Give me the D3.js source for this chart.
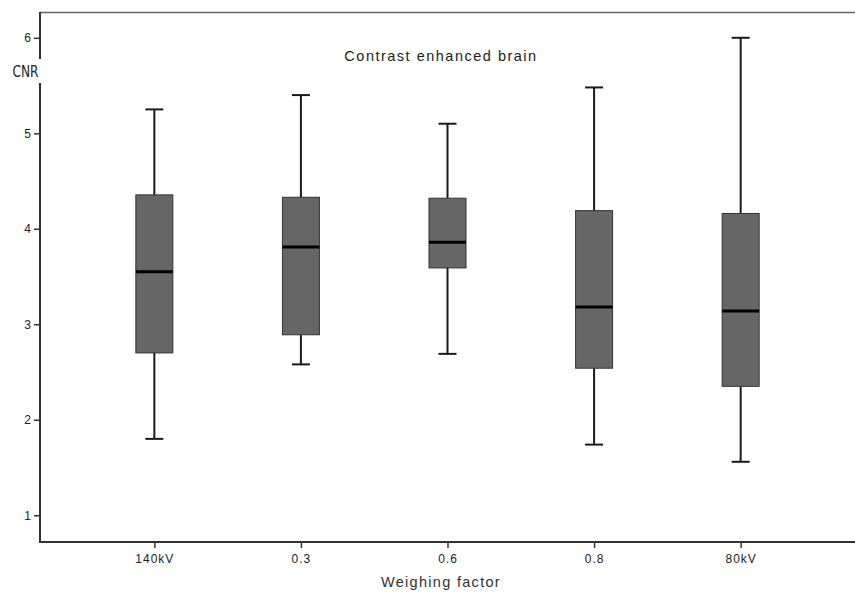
<!DOCTYPE html>
<html lang="en">
<head>
<meta charset="UTF-8">
<title>Contrast enhanced brain</title>
<script src="https://d3js.org/d3.v7.min.js"></script>
<style>
  body { margin: 0; background: #fff; }
  .tick text { font-family: "Liberation Sans", Arial, sans-serif; font-size: 12px; fill: #222; }
  .xaxis .tick text { letter-spacing: 1px; }
  .axis line { stroke: #333; }
  .axis path { display: none; }
</style>
</head>
<body>
<div id="chart"></div>
<script>
// box statistics
const categories = ["140kV", "0.3", "0.6", "0.8", "80kV"];
const whiskerLow = [1.80, 2.58, 2.69, 1.74, 1.56];
const q1 = [2.70, 2.89, 3.59, 2.54, 2.35];
const median = [3.55, 3.81, 3.86, 3.18, 3.14];
const q3 = [4.355, 4.33, 4.32, 4.19, 4.16];
const whiskerHigh = [5.25, 5.40, 5.10, 5.48, 6.00];
const yTicks = [1, 2, 3, 4, 5, 6];

const W = 855, H = 592;
const plotLeft = 40, plotTop = 12, plotBottom = 542, plotRight = 855;

const svg = d3.select("#chart").append("svg")
    .attr("width", W).attr("height", H);

const y = d3.scaleLinear().domain([0.72, 6.27]).range([plotBottom, plotTop]);
const x = d3.scalePoint().domain(categories).range([plotLeft, plotRight]).padding(0.78);

const boxW = 37, capW = 18;

// frame lines
svg.append("line").attr("x1", plotLeft).attr("x2", plotRight).attr("y1", plotTop + 0.5).attr("y2", plotTop + 0.5)
    .attr("stroke", "#666").attr("stroke-width", 1.5);
svg.append("line").attr("x1", plotLeft).attr("x2", plotRight).attr("y1", plotBottom).attr("y2", plotBottom)
    .attr("stroke", "#333").attr("stroke-width", 2);
// left axis with a gap for the CNR label
svg.append("line").attr("x1", plotLeft).attr("x2", plotLeft).attr("y1", plotTop).attr("y2", 59)
    .attr("stroke", "#333").attr("stroke-width", 2);
svg.append("line").attr("x1", plotLeft).attr("x2", plotLeft).attr("y1", 83).attr("y2", plotBottom + 1)
    .attr("stroke", "#333").attr("stroke-width", 2);

svg.append("g").attr("class", "axis")
    .attr("transform", `translate(${plotLeft},0)`)
    .call(d3.axisLeft(y).tickValues(yTicks).tickSize(6).tickPadding(3).tickFormat(d3.format("d")))
    .selectAll("line").attr("stroke-width", 1.5);

svg.append("g").attr("class", "axis xaxis")
    .attr("transform", `translate(0,${plotBottom})`)
    .call(d3.axisBottom(x).tickSize(6).tickPadding(6))
    .selectAll("line").attr("stroke-width", 1.5);

svg.append("text").attr("x", 25.5).attr("y", 77)
    .attr("text-anchor", "middle")
    .style("font-family", "'Liberation Sans Narrow', 'DejaVu Sans Condensed', sans-serif")
    .style("font-size", "16.5px")
    .attr("transform", "translate(25.5,77) scale(0.82,1) translate(-25.5,-77)")
    .attr("fill", "#222").text("CNR");

svg.append("text").attr("x", 441).attr("y", 61)
    .attr("text-anchor", "middle")
    .style("font-family", "'Liberation Sans', Arial, sans-serif")
    .style("font-size", "14.5px").style("letter-spacing", "1.5px").attr("fill", "#222")
    .text("Contrast enhanced brain");

svg.append("text").attr("x", 441).attr("y", 587)
    .attr("text-anchor", "middle")
    .style("font-family", "'Liberation Sans', Arial, sans-serif")
    .style("font-size", "14.5px").style("letter-spacing", "1.3px").attr("fill", "#333")
    .text("Weighing factor");

const boxes = svg.selectAll(".box").data(categories).enter().append("g").attr("class", "box");

boxes.append("line")
    .attr("x1", d => x(d)).attr("x2", d => x(d))
    .attr("y1", (d, i) => y(whiskerHigh[i])).attr("y2", (d, i) => y(q3[i]))
    .attr("stroke", "#1a1a1a").attr("stroke-width", 2);
boxes.append("line")
    .attr("x1", d => x(d)).attr("x2", d => x(d))
    .attr("y1", (d, i) => y(q1[i])).attr("y2", (d, i) => y(whiskerLow[i]))
    .attr("stroke", "#1a1a1a").attr("stroke-width", 2);
boxes.append("line")
    .attr("x1", d => x(d) - capW / 2).attr("x2", d => x(d) + capW / 2)
    .attr("y1", (d, i) => y(whiskerHigh[i])).attr("y2", (d, i) => y(whiskerHigh[i]))
    .attr("stroke", "#1a1a1a").attr("stroke-width", 2);
boxes.append("line")
    .attr("x1", d => x(d) - capW / 2).attr("x2", d => x(d) + capW / 2)
    .attr("y1", (d, i) => y(whiskerLow[i])).attr("y2", (d, i) => y(whiskerLow[i]))
    .attr("stroke", "#1a1a1a").attr("stroke-width", 2);
boxes.append("rect")
    .attr("x", d => x(d) - boxW / 2).attr("width", boxW)
    .attr("y", (d, i) => y(q3[i])).attr("height", (d, i) => y(q1[i]) - y(q3[i]))
    .attr("fill", "#666666").attr("stroke", "#333").attr("stroke-width", 1);
boxes.append("line")
    .attr("x1", d => x(d) - boxW / 2).attr("x2", d => x(d) + boxW / 2)
    .attr("y1", (d, i) => y(median[i])).attr("y2", (d, i) => y(median[i]))
    .attr("stroke", "#000").attr("stroke-width", 3);
</script>
</body>
</html>
